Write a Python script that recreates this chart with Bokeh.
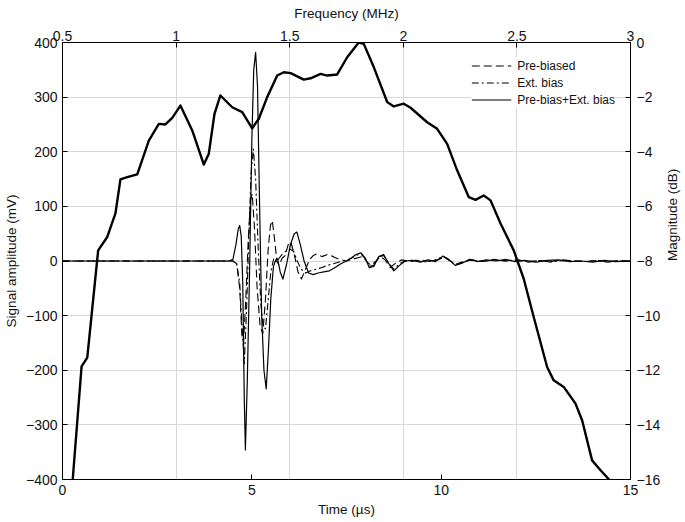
import math
from bokeh.plotting import figure
from bokeh.models import (Range1d, LinearAxis, FixedTicker, Grid, Legend, LegendItem,
                          CustomJSTickFormatter)
from bokeh.embed import file_html
from bokeh.resources import INLINE

# ---------------- data ----------------
time_ticks = [0, 5, 10, 15]
amp_ticks = [-400, -300, -200, -100, 0, 100, 200, 300, 400]
freq_ticks = [0.5, 1, 1.5, 2, 2.5, 3]
db_ticks = [-16, -14, -12, -10, -8, -6, -4, -2, 0]

# Pre-bias + Ext. bias (solid)
t_both = [
    0.00, 4.40, 4.50, 4.58, 4.64, 4.68, 4.72, 4.76, 4.80, 4.83,
    4.88, 4.94, 5.00, 5.05, 5.10, 5.15, 5.20, 5.26, 5.32, 5.38,
    5.44, 5.50, 5.57, 5.63, 5.68, 5.75, 5.82, 5.92, 6.02, 6.12,
    6.19, 6.28, 6.38, 6.50, 6.62, 6.75, 6.90, 7.05, 7.20, 7.35,
    7.50, 7.62, 7.75, 7.88, 8.00, 8.10, 8.22, 8.35, 8.48, 8.62,
    8.75, 8.90, 9.05, 9.25, 9.45, 9.65, 9.85, 10.05, 10.20, 10.37,
    10.55, 10.75, 10.95, 11.20, 11.45, 11.70, 11.95, 12.20, 12.50, 12.80,
    13.10, 13.40, 13.70, 14.00, 14.30, 14.60, 15.00]
v_both = [
    0, 0, 3, 30, 58, 65, 45, -40, -250, -346,
    -220, -20, 220, 350, 382, 320, 120, -100, -200, -234,
    -160, -70, -10, 2, 4, -20, -33, -5, 30, 50,
    53, 30, 0, -22, -25, -22, -20, -18, -12, -5,
    0, 5, 12, 15, 5, -12, -10, 8, 12, -5,
    -18, -8, 0, 1, -2, 2, -1, 9, 3, -8,
    -4, 3, -1, 2, 0, 3, -1, 1, -2, 1,
    2, -1, 0, -2, 1, -1, 0]

# Ext. bias (dash-dot)
t_ext = [
    0.00, 4.50, 4.60, 4.68, 4.74, 4.80, 4.86, 4.92, 4.98, 5.04,
    5.10, 5.17, 5.24, 5.30, 5.36, 5.42, 5.50, 5.58, 5.65, 5.72,
    5.80, 5.90, 6.00, 6.10, 6.20, 6.30, 6.42, 6.55, 6.70, 6.85,
    7.00, 7.20, 7.40, 7.60, 7.75, 7.88, 8.00, 8.10, 8.22, 8.35,
    8.48, 8.62, 8.75, 8.90, 9.05, 9.30, 9.55, 9.80, 10.05, 10.20,
    10.37, 10.55, 10.80, 11.10, 11.40, 11.70, 12.00, 12.30, 12.60, 12.90,
    13.20, 13.50, 13.80, 14.10, 14.40, 14.70, 15.00]
v_ext = [
    0, 0, -5, -40, -120, -188, -90, 40, 160, 205,
    150, 20, -80, -120, -124, -80, -20, 5, -2, 5,
    12, 18, 22, 18, 0, -15, -22, -18, -15, -12,
    -8, -4, 0, 4, 10, 13, 4, -10, -8, 7,
    10, -5, -15, -5, 0, 2, -2, 1, 8, 2,
    -7, -3, 2, -1, 2, 0, 2, -1, 1, -2,
    1, 0, -1, 1, -2, 0, 0]

# Pre-biased (dashed)
t_pre = [
    0.00, 4.50, 4.60, 4.68, 4.74, 4.78, 4.84, 4.90, 4.96, 5.01,
    5.07, 5.14, 5.22, 5.29, 5.36, 5.43, 5.49, 5.54, 5.60, 5.66,
    5.72, 5.80, 5.88, 5.96, 6.03, 6.12, 6.22, 6.31, 6.40, 6.52,
    6.62, 6.72, 6.85, 7.00, 7.15, 7.30, 7.50, 7.65, 7.80, 7.92,
    8.05, 8.15, 8.28, 8.40, 8.52, 8.65, 8.80, 8.95, 9.20, 9.45,
    9.70, 9.95, 10.08, 10.22, 10.38, 10.55, 10.80, 11.10, 11.40, 11.70,
    12.00, 12.30, 12.60, 12.90, 13.20, 13.50, 13.80, 14.10, 14.40, 14.70,
    15.00]
v_pre = [
    0, 0, -5, -50, -140, -150, -70, 30, 110, 123,
    60, -50, -120, -133, -70, 20, 65, 74, 40, 0,
    -8, 5, 10, 30, 35, 12, -20, -33, -18, 2,
    10, 13, 8, 12, 8, 3, 0, 3, 6, 8,
    -2, -8, 0, 8, 2, -12, -4, 2, -1, 2,
    -1, 3, 7, 1, -6, -2, 2, -1, 3, 0,
    2, -2, 1, -1, 2, 0, -1, 1, -1, 1,
    0]

# Spectrum magnitude (thick solid, top/right axes)
freq_mhz = [
    0.545, 0.584, 0.609, 0.657, 0.697, 0.733, 0.755, 0.785, 0.829, 0.880,
    0.924, 0.953, 0.983, 1.019, 1.071, 1.122, 1.144, 1.169, 1.195, 1.247,
    1.291, 1.335, 1.364, 1.401, 1.445, 1.474, 1.504, 1.562, 1.592, 1.636,
    1.665, 1.709, 1.753, 1.804, 1.826, 1.870, 1.929, 1.958, 2.002, 2.032,
    2.105, 2.149, 2.193, 2.237, 2.288, 2.318, 2.354, 2.384, 2.428, 2.486,
    2.530, 2.574, 2.633, 2.662, 2.706, 2.758, 2.787, 2.831, 2.868, 2.909]
mag_db = [
    -16.0, -11.86, -11.54, -7.61, -7.12, -6.26, -5.01, -4.93, -4.83, -3.59,
    -2.98, -3.00, -2.76, -2.31, -3.22, -4.47, -4.07, -2.61, -1.94, -2.37,
    -2.55, -3.14, -2.79, -2.00, -1.21, -1.09, -1.12, -1.36, -1.31, -1.15,
    -1.21, -1.17, -0.54, 0.0, -0.05, -0.90, -2.18, -2.34, -2.24, -2.39,
    -2.92, -3.16, -3.71, -4.68, -5.66, -5.76, -5.60, -5.78, -6.63, -7.61,
    -8.65, -10.05, -11.88, -12.37, -12.61, -13.22, -13.83, -15.30, -15.66, -16.03]

# ---------------- figure ----------------
FONT = "Liberation Sans"

p = figure(frame_width=568, frame_height=437,
           x_range=Range1d(0, 15), y_range=Range1d(-400, 400),
           output_backend="svg", toolbar_location=None,
           min_border_left=58, min_border_right=46,
           min_border_top=42, min_border_bottom=34)
p.extra_x_ranges = {"freq": Range1d(0.5, 3)}
p.extra_y_ranges = {"db": Range1d(-16, 0)}
p.outline_line_color = "black"
p.outline_line_width = 1
p.background_fill_color = "white"
p.border_fill_color = "white"

bottom_axis = p.below[0]
left_axis = p.left[0]

minus_fmt = "return tick < 0 ? '\u2212' + Math.abs(tick) : String(tick);"

top_axis = LinearAxis(x_range_name="freq")
right_axis = LinearAxis(y_range_name="db")
p.add_layout(top_axis, "above")
p.add_layout(right_axis, "right")

axes = [(bottom_axis, time_ticks, "Time (\u00b5s)", 5, 4),
        (left_axis, amp_ticks, "Signal amplitude (mV)", 5, 4),
        (top_axis, freq_ticks, "Frequency (MHz)", 2, 7),
        (right_axis, db_ticks, "Magnitude (dB)", 6, 9)]
for ax, ticks, lab, lab_sd, ax_sd in axes:
    ax.ticker = FixedTicker(ticks=ticks)
    ax.formatter = CustomJSTickFormatter(code=minus_fmt)
    ax.axis_label = lab
    ax.axis_label_text_font = FONT
    ax.axis_label_text_font_size = "13.5px"
    ax.axis_label_text_font_style = "normal"
    ax.axis_label_text_color = "#111111"
    ax.major_label_text_font = FONT
    ax.major_label_text_font_size = "14px"
    ax.major_label_text_color = "#111111"
    ax.axis_line_color = "black"
    ax.major_tick_line_color = "black"
    ax.major_tick_in = 5
    ax.major_tick_out = 0
    ax.minor_tick_line_color = None
    ax.major_label_standoff = lab_sd
    ax.axis_label_standoff = ax_sd

try:
    right_axis.axis_label_orientation = math.pi / 2
except Exception:
    pass

# grids: horizontal at amplitude ticks, vertical at frequency ticks
p.xgrid.visible = False
p.ygrid.ticker = FixedTicker(ticks=amp_ticks)
p.ygrid.grid_line_color = "#d8d8d8"
vgrid = Grid(dimension=0, ticker=FixedTicker(ticks=freq_ticks), x_range_name="freq",
             grid_line_color="#d8d8d8")
p.add_layout(vgrid)

# ---------------- glyphs ----------------
r_mag = p.line(freq_mhz, mag_db, x_range_name="freq", y_range_name="db",
               line_color="black", line_width=2.4, line_join="round")
r_pre = p.line(t_pre, v_pre, line_color="black", line_width=1.1,
               line_dash="8 4", line_join="round")
r_ext = p.line(t_ext, v_ext, line_color="black", line_width=1.1,
               line_dash="7 3 2 3", line_join="round")
r_both = p.line(t_both, v_both, line_color="black", line_width=1.2, line_join="round")

legend = Legend(items=[LegendItem(label="Pre-biased", renderers=[r_pre]),
                       LegendItem(label="Ext. bias", renderers=[r_ext]),
                       LegendItem(label="Pre-bias+Ext. bias", renderers=[r_both])],
                location="top_right", border_line_color=None,
                background_fill_color="white", background_fill_alpha=1.0,
                label_text_font=FONT, label_text_font_size="12px",
                label_text_color="#111111",
                glyph_width=40, glyph_height=17, label_height=17,
                spacing=0, padding=4, margin=15, label_standoff=6)
p.add_layout(legend)

open("out.html", "w").write(file_html(p, INLINE))
